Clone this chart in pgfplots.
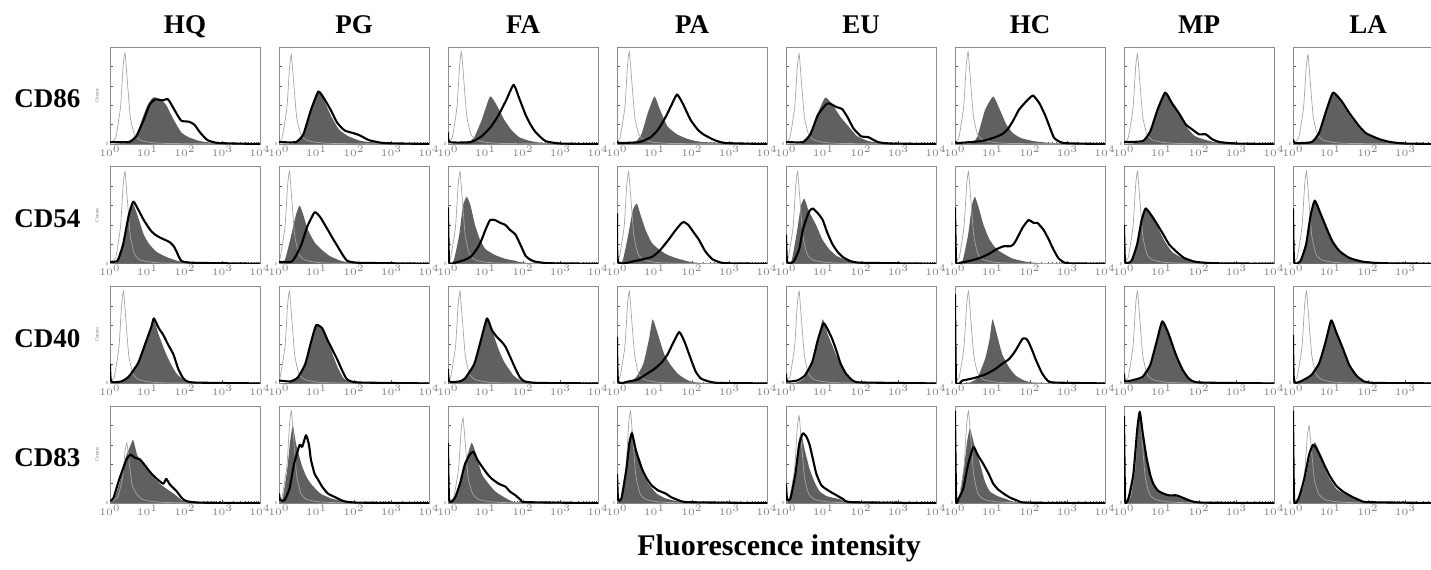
\documentclass[border=0pt]{standalone}
\usepackage{fontspec}
\setmainfont{Liberation Serif}
\usepackage{pgfplots}
\pgfplotsset{compat=1.18}

\definecolor{histfill}{RGB}{96,96,96}
\definecolor{isogray}{RGB}{165,165,165}
\definecolor{framegray}{RGB}{140,140,140}

\pgfplotsset{
  panel/.style={
    scale only axis, width=75pt, height=48.5pt, anchor=north west,
    xmin=0, xmax=4, ymin=0, ymax=1,
    axis line style={draw=framegray, line width=0.45pt},
    xtick={0,1,2,3,4},
    xticklabels={$10^0$,$10^1$,$10^2$,$10^3$,$10^4$},
    minor xtick={0.301,0.477,0.602,0.699,0.778,0.845,0.903,0.954,
                 1.301,1.477,1.602,1.699,1.778,1.845,1.903,1.954,
                 2.301,2.477,2.602,2.699,2.778,2.845,2.903,2.954,
                 3.301,3.477,3.602,3.699,3.778,3.845,3.903,3.954},
    ytick={0,0.2,0.4,0.6,0.8,1}, yticklabels={0,,,,,},
    xtick pos=bottom, ytick pos=left, tick align=inside,
    major tick length=1.6pt, minor tick length=0.9pt,
    every tick/.style={black!65, line width=0.3pt},
    tick label style={font=\fontsize{2.4}{2.6}\selectfont, text=black!50, inner sep=0.7pt},
    clip=true,
  },
  % rightmost column: the page ends before the last decade label
  col7/.style={xticklabels={$10^0$,$10^1$,$10^2$,$10^3$,}},
  hist fill/.style={fill=histfill, draw=none, smooth, tension=0.3},
  iso line/.style={isogray, line width=0.35pt, smooth, tension=0.3},
  treated line/.style={black, line width=1.05pt, smooth, tension=0.3, line join=round},
}

% #1 column, #2 row, #3 filled control, #4 isotype, #5 treated
\newcommand{\panel}[5]{%
  \begin{axis}[panel, col#1/.try, at={({55pt+84.5pt*#1},{-23.5pt-59.85pt*#2})}]
    \addplot[hist fill] coordinates {#3} \closedcycle;
    \addplot[iso line] coordinates {#4};
    \addplot[treated line] coordinates {#5};
  \end{axis}}

\begin{document}
\begin{tikzpicture}
% ---------------- CD86 ----------------
\panel{0}{0}
 {(0,0)(0.5,0.01)(0.7,0.08)(0.85,0.25)(1.0,0.4)(1.15,0.48)(1.35,0.46)(1.5,0.4)(1.7,0.25)(1.9,0.12)(2.1,0.07)(2.4,0.03)(2.8,0.01)(4,0)}
 {(0,0.02)(0.15,0.06)(0.28,0.38)(0.35,0.8)(0.4,0.94)(0.46,0.66)(0.54,0.28)(0.65,0.1)(0.8,0.04)(1.1,0.015)(1.6,0.005)(4,0)}
 {(0,0.02)(0.5,0.02)(0.7,0.08)(0.9,0.25)(1.05,0.4)(1.2,0.46)(1.4,0.45)(1.55,0.46)(1.75,0.33)(1.9,0.24)(2.1,0.23)(2.25,0.2)(2.4,0.12)(2.6,0.04)(2.9,0.01)(4,0)}
\panel{1}{0}
 {(0,0)(0.45,0.01)(0.65,0.1)(0.85,0.35)(1.03,0.55)(1.2,0.45)(1.4,0.28)(1.6,0.15)(1.85,0.08)(2.2,0.03)(2.8,0.01)(4,0)}
 {(0,0.02)(0.08,0.06)(0.21,0.37)(0.28,0.78)(0.33,0.92)(0.39,0.64)(0.47,0.28)(0.58,0.1)(0.73,0.04)(1.03,0.015)(1.53,0.005)(4,0)}
 {(0,0.02)(0.45,0.02)(0.65,0.1)(0.85,0.35)(1.05,0.54)(1.2,0.47)(1.38,0.35)(1.55,0.22)(1.75,0.14)(2.0,0.11)(2.15,0.09)(2.4,0.04)(2.8,0.01)(4,0)}
\panel{2}{0}
 {(0,0)(0.5,0.01)(0.7,0.07)(0.9,0.25)(1.12,0.49)(1.3,0.4)(1.5,0.25)(1.7,0.14)(1.9,0.07)(2.2,0.03)(2.6,0.01)(4,0)}
 {(0,0.02)(0.11,0.06)(0.24,0.38)(0.31,0.81)(0.36,0.95)(0.42,0.67)(0.5,0.29)(0.61,0.1)(0.76,0.04)(1.06,0.015)(1.56,0.005)(4,0)}
 {(0,0.12)(0.04,0.02)(0.6,0.02)(0.9,0.08)(1.15,0.18)(1.35,0.3)(1.55,0.45)(1.75,0.61)(1.9,0.47)(2.07,0.3)(2.2,0.2)(2.34,0.12)(2.6,0.03)(3.0,0.005)(4,0)}
\panel{3}{0}
 {(0,0)(0.45,0.01)(0.65,0.1)(0.82,0.32)(1.0,0.49)(1.15,0.35)(1.35,0.18)(1.6,0.1)(1.9,0.05)(2.3,0.02)(4,0)}
 {(0,0.02)(0.08,0.06)(0.21,0.38)(0.28,0.81)(0.33,0.95)(0.39,0.67)(0.47,0.29)(0.58,0.1)(0.73,0.04)(1.03,0.015)(1.53,0.005)(4,0)}
 {(0,0.03)(0.05,0.01)(0.6,0.02)(0.9,0.07)(1.1,0.15)(1.3,0.28)(1.45,0.4)(1.6,0.51)(1.75,0.42)(1.96,0.25)(2.15,0.15)(2.3,0.1)(2.6,0.04)(2.9,0.01)(4,0)}
\panel{4}{0}
 {(0,0)(0.45,0.01)(0.65,0.1)(0.85,0.32)(1.05,0.48)(1.25,0.4)(1.45,0.28)(1.67,0.18)(1.9,0.08)(2.2,0.03)(2.6,0.01)(4,0)}
 {(0,0.02)(0.1,0.06)(0.23,0.37)(0.3,0.79)(0.35,0.93)(0.41,0.65)(0.49,0.28)(0.6,0.1)(0.75,0.04)(1.05,0.015)(1.55,0.005)(4,0)}
 {(0,0.02)(0.45,0.02)(0.65,0.1)(0.85,0.3)(1.05,0.4)(1.15,0.42)(1.35,0.38)(1.5,0.36)(1.65,0.27)(1.8,0.16)(2.0,0.08)(2.2,0.07)(2.45,0.02)(2.8,0.005)(4,0)}
\panel{5}{0}
 {(0,0)(0.45,0.01)(0.6,0.08)(0.8,0.35)(1.02,0.49)(1.2,0.35)(1.37,0.2)(1.55,0.11)(1.77,0.06)(2.1,0.03)(2.6,0.01)(4,0)}
 {(0,0.02)(0.1,0.06)(0.23,0.38)(0.3,0.81)(0.35,0.95)(0.41,0.67)(0.49,0.29)(0.6,0.1)(0.75,0.04)(1.05,0.015)(1.55,0.005)(4,0)}
 {(0,0.03)(0.05,0.01)(0.7,0.03)(1.0,0.06)(1.25,0.1)(1.4,0.15)(1.55,0.24)(1.7,0.35)(1.9,0.44)(2.08,0.5)(2.25,0.42)(2.4,0.3)(2.55,0.15)(2.65,0.06)(2.9,0.01)(4,0)}
\panel{6}{0}
 {(0,0)(0.5,0.02)(0.7,0.12)(0.9,0.35)(1.1,0.53)(1.3,0.42)(1.5,0.3)(1.7,0.16)(1.9,0.08)(2.2,0.04)(2.6,0.01)(4,0)}
 {(0,0.02)(0.11,0.06)(0.24,0.37)(0.31,0.79)(0.36,0.93)(0.42,0.65)(0.5,0.28)(0.61,0.1)(0.76,0.04)(1.06,0.015)(1.56,0.005)(4,0)}
 {(0,0.02)(0.5,0.03)(0.7,0.13)(0.9,0.36)(1.1,0.53)(1.28,0.42)(1.46,0.32)(1.65,0.2)(1.82,0.15)(2.0,0.1)(2.18,0.1)(2.35,0.05)(2.55,0.02)(3,0.005)(4,0)}
\panel{7}{0}
 {(0,0)(0.5,0.02)(0.7,0.12)(0.9,0.36)(1.07,0.53)(1.3,0.42)(1.5,0.3)(1.75,0.17)(1.95,0.1)(2.3,0.04)(2.6,0.02)(3.0,0.005)(4,0)}
 {(0,0.02)(0.15,0.06)(0.28,0.37)(0.35,0.78)(0.4,0.92)(0.46,0.64)(0.54,0.28)(0.65,0.1)(0.8,0.04)(1.1,0.015)(1.6,0.005)(4,0)}
 {(0,0.05)(0.05,0.01)(0.5,0.02)(0.7,0.12)(0.9,0.36)(1.07,0.53)(1.3,0.44)(1.5,0.32)(1.75,0.19)(1.95,0.11)(2.3,0.05)(2.6,0.02)(3.0,0.005)(4,0)}
% ---------------- CD54 ----------------
\panel{0}{1}
 {(0,0)(0.2,0.02)(0.35,0.2)(0.5,0.52)(0.62,0.61)(0.75,0.48)(0.9,0.3)(1.05,0.2)(1.25,0.12)(1.5,0.07)(1.8,0.03)(2.2,0.01)(4,0)}
 {(0,0.02)(0.15,0.06)(0.28,0.38)(0.35,0.81)(0.4,0.95)(0.46,0.67)(0.54,0.29)(0.65,0.1)(0.8,0.04)(1.1,0.015)(1.6,0.005)(4,0)}
 {(0,0.02)(0.2,0.03)(0.35,0.2)(0.5,0.5)(0.62,0.64)(0.75,0.56)(0.9,0.45)(1.07,0.35)(1.2,0.3)(1.33,0.27)(1.5,0.24)(1.6,0.22)(1.7,0.18)(1.78,0.12)(1.9,0.03)(2.2,0.01)(4,0)}
\panel{1}{1}
 {(0,0)(0.15,0.03)(0.3,0.25)(0.45,0.5)(0.55,0.6)(0.65,0.5)(0.77,0.35)(0.95,0.22)(1.12,0.15)(1.35,0.08)(1.65,0.03)(2,0.01)(4,0)}
 {(0,0.02)(0.03,0.06)(0.16,0.38)(0.23,0.81)(0.28,0.95)(0.34,0.67)(0.42,0.29)(0.53,0.1)(0.68,0.04)(0.98,0.015)(1.48,0.005)(4,0)}
 {(0,0.02)(0.33,0.02)(0.45,0.08)(0.6,0.2)(0.75,0.38)(0.95,0.53)(1.1,0.48)(1.3,0.35)(1.45,0.25)(1.56,0.18)(1.7,0.09)(1.82,0.03)(2.1,0.01)(4,0)}
\panel{2}{1}
 {(0,0)(0.15,0.03)(0.3,0.3)(0.4,0.6)(0.5,0.69)(0.6,0.6)(0.72,0.4)(0.85,0.25)(1.0,0.15)(1.25,0.09)(1.53,0.05)(1.8,0.03)(2.07,0.01)(4,0)}
 {(0,0.02)(0.07,0.06)(0.2,0.38)(0.27,0.81)(0.32,0.95)(0.38,0.67)(0.46,0.29)(0.57,0.1)(0.72,0.04)(1.02,0.015)(1.52,0.005)(4,0)}
 {(0,0.58)(0.03,0.02)(0.18,0.01)(0.45,0.04)(0.63,0.08)(0.8,0.17)(0.9,0.25)(1.0,0.35)(1.12,0.45)(1.25,0.45)(1.4,0.42)(1.53,0.4)(1.65,0.35)(1.8,0.3)(1.95,0.18)(2.07,0.08)(2.2,0.04)(2.34,0.02)(2.7,0.005)(4,0)}
\panel{3}{1}
 {(0,0)(0.15,0.03)(0.3,0.3)(0.42,0.55)(0.53,0.62)(0.63,0.5)(0.76,0.35)(0.92,0.22)(1.11,0.15)(1.35,0.09)(1.64,0.05)(1.95,0.02)(2.3,0.005)(4,0)}
 {(0,0.02)(0.06,0.06)(0.19,0.38)(0.26,0.81)(0.31,0.95)(0.37,0.67)(0.45,0.29)(0.56,0.1)(0.71,0.04)(1.01,0.015)(1.51,0.005)(4,0)}
 {(0,0.52)(0.03,0.02)(0.5,0.03)(0.93,0.07)(1.15,0.14)(1.38,0.25)(1.55,0.34)(1.7,0.41)(1.78,0.43)(1.9,0.4)(2.05,0.32)(2.18,0.25)(2.35,0.13)(2.53,0.05)(2.7,0.02)(2.9,0.005)(4,0)}
\panel{4}{1}
 {(0,0)(0.15,0.03)(0.3,0.35)(0.4,0.6)(0.49,0.67)(0.6,0.55)(0.8,0.4)(0.97,0.25)(1.15,0.15)(1.35,0.08)(1.6,0.04)(2.0,0.01)(4,0)}
 {(0,0.02)(0.06,0.06)(0.19,0.38)(0.26,0.81)(0.31,0.95)(0.37,0.67)(0.45,0.29)(0.56,0.1)(0.71,0.04)(1.01,0.015)(1.51,0.005)(4,0)}
 {(0,0.3)(0.03,0.02)(0.2,0.02)(0.35,0.15)(0.45,0.35)(0.53,0.45)(0.62,0.54)(0.71,0.57)(0.85,0.52)(0.98,0.45)(1.1,0.32)(1.24,0.2)(1.38,0.12)(1.51,0.07)(1.7,0.03)(2.0,0.01)(4,0)}
\panel{5}{1}
 {(0,0)(0.2,0.03)(0.35,0.3)(0.45,0.6)(0.53,0.69)(0.63,0.58)(0.76,0.4)(0.92,0.25)(1.11,0.15)(1.35,0.09)(1.56,0.05)(1.9,0.02)(2.3,0.005)(4,0)}
 {(0,0.02)(0.11,0.06)(0.24,0.38)(0.31,0.81)(0.36,0.95)(0.42,0.67)(0.5,0.29)(0.61,0.1)(0.76,0.04)(1.06,0.015)(1.56,0.005)(4,0)}
 {(0,0.58)(0.03,0.02)(0.13,0.01)(0.4,0.03)(0.67,0.06)(0.9,0.1)(1.11,0.15)(1.3,0.18)(1.47,0.18)(1.56,0.2)(1.64,0.25)(1.8,0.37)(1.96,0.45)(2.1,0.42)(2.2,0.42)(2.36,0.35)(2.5,0.25)(2.62,0.15)(2.75,0.06)(2.84,0.03)(3.0,0.005)(4,0)}
\panel{6}{1}
 {(0,0)(0.2,0.03)(0.35,0.2)(0.47,0.45)(0.58,0.57)(0.75,0.48)(0.93,0.35)(1.1,0.22)(1.29,0.12)(1.55,0.06)(1.9,0.02)(2.4,0.005)(4,0)}
 {(0,0.02)(0.11,0.06)(0.24,0.38)(0.31,0.81)(0.36,0.95)(0.42,0.67)(0.5,0.29)(0.61,0.1)(0.76,0.04)(1.06,0.015)(1.56,0.005)(4,0)}
 {(0,0.4)(0.03,0.02)(0.2,0.03)(0.35,0.2)(0.47,0.45)(0.58,0.57)(0.78,0.47)(1.02,0.32)(1.2,0.2)(1.38,0.13)(1.6,0.06)(1.9,0.02)(2.4,0.005)(4,0)}
\panel{7}{1}
 {(0,0)(0.2,0.03)(0.35,0.2)(0.47,0.5)(0.58,0.65)(0.72,0.52)(0.89,0.35)(1.05,0.22)(1.24,0.12)(1.5,0.06)(1.87,0.02)(2.4,0.005)(4,0)}
 {(0,0.02)(0.11,0.06)(0.24,0.38)(0.31,0.81)(0.36,0.95)(0.42,0.67)(0.5,0.29)(0.61,0.1)(0.76,0.04)(1.06,0.015)(1.56,0.005)(4,0)}
 {(0,0.57)(0.03,0.02)(0.2,0.03)(0.35,0.2)(0.47,0.5)(0.58,0.65)(0.72,0.53)(0.89,0.37)(1.05,0.23)(1.24,0.13)(1.5,0.06)(1.87,0.02)(2.4,0.005)(4,0)}
% ---------------- CD40 ----------------
\panel{0}{2}
 {(0,0)(0.3,0.01)(0.5,0.06)(0.75,0.2)(0.95,0.4)(1.1,0.58)(1.16,0.67)(1.3,0.5)(1.5,0.3)(1.65,0.18)(1.78,0.1)(1.95,0.04)(2.2,0.01)(4,0)}
 {(0,0.02)(0.11,0.06)(0.24,0.38)(0.31,0.81)(0.36,0.95)(0.42,0.67)(0.5,0.29)(0.61,0.1)(0.76,0.04)(1.06,0.015)(1.56,0.005)(4,0)}
 {(0,0.2)(0.03,0.02)(0.3,0.02)(0.5,0.07)(0.75,0.21)(0.95,0.42)(1.1,0.58)(1.17,0.67)(1.3,0.57)(1.42,0.5)(1.55,0.4)(1.69,0.3)(1.82,0.15)(1.96,0.05)(2.2,0.01)(4,0)}
\panel{1}{2}
 {(0,0)(0.3,0.01)(0.5,0.06)(0.7,0.2)(0.85,0.42)(0.99,0.6)(1.15,0.55)(1.38,0.35)(1.55,0.18)(1.73,0.05)(2.0,0.01)(4,0)}
 {(0,0.02)(0.03,0.06)(0.16,0.38)(0.23,0.81)(0.28,0.95)(0.34,0.67)(0.42,0.29)(0.53,0.1)(0.68,0.04)(0.98,0.015)(1.48,0.005)(4,0)}
 {(0,0.03)(0.3,0.02)(0.5,0.06)(0.7,0.2)(0.85,0.42)(0.99,0.6)(1.15,0.57)(1.29,0.45)(1.42,0.35)(1.55,0.25)(1.7,0.12)(1.82,0.04)(2.1,0.01)(4,0)}
\panel{2}{2}
 {(0,0)(0.3,0.01)(0.45,0.05)(0.7,0.2)(0.88,0.45)(1.03,0.67)(1.17,0.55)(1.35,0.35)(1.5,0.22)(1.62,0.15)(1.75,0.08)(1.89,0.04)(2.2,0.01)(4,0)}
 {(0,0.02)(0.07,0.06)(0.2,0.38)(0.27,0.81)(0.32,0.95)(0.38,0.67)(0.46,0.29)(0.57,0.1)(0.72,0.04)(1.02,0.015)(1.52,0.005)(4,0)}
 {(0,0.15)(0.03,0.02)(0.3,0.02)(0.45,0.05)(0.7,0.2)(0.88,0.45)(1.04,0.67)(1.17,0.55)(1.3,0.48)(1.43,0.43)(1.53,0.38)(1.65,0.28)(1.8,0.15)(1.92,0.06)(2.05,0.02)(2.4,0.005)(4,0)}
\panel{3}{2}
 {(0,0)(0.3,0.01)(0.5,0.06)(0.7,0.2)(0.85,0.45)(0.95,0.66)(1.08,0.52)(1.26,0.3)(1.45,0.18)(1.62,0.1)(1.8,0.05)(1.97,0.02)(2.3,0.005)(4,0)}
 {(0,0.02)(0.08,0.06)(0.21,0.38)(0.28,0.81)(0.33,0.95)(0.39,0.67)(0.47,0.29)(0.58,0.1)(0.73,0.04)(1.03,0.015)(1.53,0.005)(4,0)}
 {(0,0.48)(0.03,0.02)(0.3,0.02)(0.55,0.04)(0.8,0.1)(1.0,0.15)(1.2,0.22)(1.35,0.3)(1.5,0.42)(1.66,0.53)(1.8,0.43)(1.97,0.25)(2.1,0.12)(2.24,0.05)(2.45,0.02)(2.7,0.005)(4,0)}
\panel{4}{2}
 {(0,0)(0.3,0.01)(0.5,0.06)(0.7,0.2)(0.85,0.45)(0.98,0.66)(1.12,0.5)(1.33,0.3)(1.5,0.15)(1.69,0.05)(1.95,0.01)(4,0)}
 {(0,0.02)(0.1,0.06)(0.23,0.38)(0.3,0.81)(0.35,0.95)(0.41,0.67)(0.49,0.29)(0.6,0.1)(0.75,0.04)(1.05,0.015)(1.55,0.005)(4,0)}
 {(0,0.1)(0.03,0.02)(0.3,0.03)(0.5,0.08)(0.7,0.22)(0.85,0.45)(1.0,0.62)(1.12,0.55)(1.24,0.45)(1.35,0.33)(1.46,0.2)(1.6,0.1)(1.78,0.03)(2.0,0.01)(4,0)}
\panel{5}{2}
 {(0,0)(0.4,0.01)(0.6,0.06)(0.8,0.25)(0.92,0.45)(1.0,0.66)(1.12,0.5)(1.26,0.3)(1.45,0.16)(1.62,0.08)(1.85,0.03)(2.2,0.005)(4,0)}
 {(0,0.02)(0.11,0.06)(0.24,0.38)(0.31,0.81)(0.36,0.95)(0.42,0.67)(0.5,0.29)(0.61,0.1)(0.76,0.04)(1.06,0.015)(1.56,0.005)(4,0)}
 {(0,0.92)(0.03,0.02)(0.2,0.03)(0.45,0.05)(0.64,0.07)(0.85,0.1)(1.08,0.15)(1.25,0.2)(1.44,0.25)(1.6,0.33)(1.8,0.46)(1.9,0.46)(1.97,0.42)(2.07,0.33)(2.15,0.25)(2.3,0.12)(2.42,0.05)(2.6,0.01)(4,0)}
\panel{6}{2}
 {(0,0)(0.3,0.03)(0.5,0.06)(0.7,0.18)(0.87,0.42)(1.02,0.64)(1.18,0.5)(1.38,0.3)(1.55,0.15)(1.73,0.05)(2.0,0.01)(4,0)}
 {(0,0.02)(0.11,0.06)(0.24,0.38)(0.31,0.81)(0.36,0.95)(0.42,0.67)(0.5,0.29)(0.61,0.1)(0.76,0.04)(1.06,0.015)(1.56,0.005)(4,0)}
 {(0,0.1)(0.03,0.02)(0.3,0.04)(0.5,0.07)(0.7,0.19)(0.87,0.43)(1.02,0.64)(1.18,0.52)(1.38,0.3)(1.55,0.15)(1.73,0.05)(2.0,0.01)(4,0)}
\panel{7}{2}
 {(0,0)(0.3,0.03)(0.5,0.08)(0.7,0.2)(0.87,0.42)(1.02,0.65)(1.15,0.52)(1.33,0.35)(1.5,0.18)(1.69,0.08)(1.9,0.02)(2.2,0.005)(4,0)}
 {(0,0.02)(0.11,0.06)(0.24,0.38)(0.31,0.81)(0.36,0.95)(0.42,0.67)(0.5,0.29)(0.61,0.1)(0.76,0.04)(1.06,0.015)(1.56,0.005)(4,0)}
 {(0,0.5)(0.03,0.02)(0.3,0.04)(0.5,0.09)(0.7,0.21)(0.87,0.43)(1.02,0.65)(1.15,0.53)(1.33,0.36)(1.5,0.19)(1.69,0.08)(1.9,0.02)(2.2,0.005)(4,0)}
% ---------------- CD83 ----------------
\panel{0}{3}
 {(0,0)(0.1,0.03)(0.25,0.2)(0.4,0.45)(0.55,0.6)(0.62,0.65)(0.72,0.5)(0.8,0.45)(0.98,0.35)(1.15,0.27)(1.33,0.2)(1.5,0.15)(1.69,0.1)(1.85,0.05)(1.96,0.02)(2.3,0.005)(4,0)}
 {(0,0.02)(0.2,0.06)(0.33,0.25)(0.4,0.53)(0.45,0.62)(0.51,0.43)(0.59,0.19)(0.7,0.1)(0.85,0.04)(1.15,0.015)(1.65,0.005)(4,0)}
 {(0,0.02)(0.09,0.05)(0.25,0.25)(0.44,0.45)(0.55,0.5)(0.65,0.47)(0.8,0.45)(0.95,0.38)(1.07,0.32)(1.25,0.25)(1.42,0.2)(1.5,0.25)(1.6,0.19)(1.78,0.12)(1.92,0.05)(2.04,0.02)(2.4,0.005)(4,0)}
\panel{1}{3}
 {(0,0)(0.1,0.05)(0.22,0.35)(0.3,0.65)(0.37,0.8)(0.45,0.62)(0.6,0.4)(0.72,0.28)(0.85,0.2)(1.1,0.1)(1.38,0.05)(1.7,0.02)(2.1,0.005)(4,0)}
 {(0,0.02)(0.08,0.06)(0.21,0.38)(0.28,0.81)(0.33,0.95)(0.39,0.67)(0.47,0.29)(0.58,0.1)(0.73,0.04)(1.03,0.015)(1.53,0.005)(4,0)}
 {(0,0.1)(0.03,0.03)(0.15,0.03)(0.28,0.15)(0.4,0.4)(0.55,0.6)(0.62,0.58)(0.72,0.7)(0.8,0.6)(0.85,0.45)(0.95,0.3)(1.03,0.25)(1.15,0.17)(1.3,0.1)(1.5,0.06)(1.73,0.02)(2.1,0.005)(4,0)}
\panel{2}{3}
 {(0,0)(0.15,0.03)(0.3,0.15)(0.45,0.4)(0.63,0.62)(0.75,0.5)(0.9,0.3)(1.08,0.2)(1.26,0.12)(1.5,0.06)(1.7,0.02)(2.0,0.005)(4,0)}
 {(0,0.02)(0.15,0.06)(0.28,0.35)(0.35,0.75)(0.4,0.88)(0.46,0.62)(0.54,0.26)(0.65,0.1)(0.8,0.04)(1.1,0.015)(1.6,0.005)(4,0)}
 {(0,0.62)(0.03,0.03)(0.18,0.05)(0.32,0.2)(0.45,0.4)(0.58,0.5)(0.68,0.53)(0.78,0.45)(0.9,0.38)(1.05,0.3)(1.17,0.25)(1.35,0.2)(1.53,0.17)(1.65,0.12)(1.8,0.08)(1.95,0.03)(2.07,0.01)(4,0)}
\panel{3}{3}
 {(0,0)(0.12,0.05)(0.25,0.35)(0.33,0.65)(0.4,0.75)(0.48,0.62)(0.58,0.45)(0.7,0.3)(0.84,0.2)(1.05,0.1)(1.29,0.05)(1.6,0.02)(2.0,0.005)(4,0)}
 {(0,0.02)(0.11,0.06)(0.24,0.38)(0.31,0.81)(0.36,0.95)(0.42,0.67)(0.5,0.29)(0.61,0.1)(0.76,0.04)(1.06,0.015)(1.56,0.005)(4,0)}
 {(0,0.3)(0.03,0.03)(0.12,0.05)(0.25,0.35)(0.33,0.62)(0.4,0.72)(0.5,0.55)(0.67,0.35)(0.8,0.25)(0.93,0.18)(1.1,0.13)(1.29,0.1)(1.45,0.06)(1.64,0.03)(1.9,0.01)(4,0)}
\panel{4}{3}
 {(0,0)(0.12,0.05)(0.25,0.35)(0.33,0.62)(0.4,0.72)(0.5,0.55)(0.63,0.35)(0.78,0.2)(0.9,0.12)(1.1,0.07)(1.44,0.04)(1.7,0.01)(4,0)}
 {(0,0.02)(0.1,0.06)(0.23,0.36)(0.3,0.77)(0.35,0.9)(0.41,0.63)(0.49,0.27)(0.6,0.1)(0.75,0.04)(1.05,0.015)(1.55,0.005)(4,0)}
 {(0,0.2)(0.03,0.03)(0.12,0.05)(0.25,0.3)(0.35,0.6)(0.45,0.72)(0.55,0.68)(0.63,0.6)(0.72,0.45)(0.81,0.3)(0.95,0.18)(1.17,0.12)(1.35,0.08)(1.53,0.04)(1.75,0.01)(4,0)}
\panel{5}{3}
 {(0,0)(0.12,0.05)(0.25,0.4)(0.33,0.65)(0.4,0.77)(0.5,0.62)(0.67,0.4)(0.8,0.22)(0.93,0.12)(1.15,0.07)(1.38,0.04)(1.7,0.01)(4,0)}
 {(0,0.02)(0.11,0.06)(0.24,0.38)(0.31,0.81)(0.36,0.95)(0.42,0.67)(0.5,0.29)(0.61,0.1)(0.76,0.04)(1.06,0.015)(1.56,0.005)(4,0)}
 {(0,0.95)(0.03,0.03)(0.1,0.05)(0.22,0.15)(0.35,0.4)(0.49,0.58)(0.6,0.5)(0.76,0.4)(0.9,0.3)(1.02,0.2)(1.15,0.14)(1.29,0.1)(1.45,0.06)(1.64,0.03)(1.9,0.005)(4,0)}
\panel{6}{3}
 {(0,0)(0.12,0.05)(0.25,0.3)(0.35,0.75)(0.42,0.93)(0.5,0.7)(0.6,0.45)(0.7,0.28)(0.78,0.2)(0.9,0.13)(1.04,0.1)(1.2,0.08)(1.4,0.07)(1.6,0.04)(1.93,0.01)(2.3,0.005)(4,0)}
 {(0,0.02)(0.17,0.06)(0.3,0.38)(0.37,0.81)(0.42,0.95)(0.48,0.67)(0.56,0.29)(0.67,0.1)(0.82,0.04)(1.12,0.015)(1.62,0.005)(4,0)}
 {(0,0.9)(0.03,0.03)(0.12,0.05)(0.25,0.3)(0.35,0.75)(0.42,0.94)(0.5,0.72)(0.6,0.47)(0.7,0.29)(0.78,0.2)(0.9,0.13)(1.04,0.1)(1.2,0.08)(1.4,0.08)(1.6,0.05)(1.8,0.02)(2.1,0.005)(4,0)}
\panel{7}{3}
 {(0,0)(0.15,0.04)(0.3,0.2)(0.45,0.48)(0.58,0.63)(0.7,0.52)(0.8,0.4)(0.95,0.27)(1.15,0.15)(1.35,0.1)(1.6,0.05)(1.96,0.01)(2.3,0.005)(4,0)}
 {(0,0.02)(0.18,0.06)(0.31,0.32)(0.38,0.68)(0.43,0.8)(0.49,0.56)(0.57,0.24)(0.68,0.1)(0.83,0.04)(1.13,0.015)(1.63,0.005)(4,0)}
 {(0,0.95)(0.03,0.03)(0.15,0.05)(0.3,0.25)(0.43,0.5)(0.53,0.6)(0.62,0.57)(0.71,0.5)(0.85,0.38)(0.98,0.28)(1.15,0.18)(1.33,0.12)(1.55,0.07)(1.78,0.03)(2.0,0.01)(4,0)}

% column headings
\foreach \name [count=\i from 0] in {HQ,PG,FA,PA,EU,HC,MP,LA}
  \node[anchor=base, font=\fontsize{13.5}{15}\selectfont\bfseries, inner sep=0pt]
    at ({92.5pt+84.5pt*\i},-16.5pt) {\name};
% row headings and count labels
\foreach \name [count=\j from 0] in {CD86,CD54,CD40,CD83} {
  \node[anchor=base west, font=\fontsize{13.5}{15}\selectfont\bfseries, inner sep=0pt]
    at (7pt,{-53.8pt-59.85pt*\j}) {\name};
  \node[rotate=90, font=\fontsize{2.5}{3}\selectfont, text=black!55, inner sep=0pt]
    at (48.5pt,{-47.75pt-59.85pt*\j}) {Counts};
}
\node[anchor=base west, font=\fontsize{15}{17}\selectfont\bfseries, inner sep=0pt]
  at (318.5pt,-277.5pt) {Fluorescence intensity};

\pgfresetboundingbox
\path[use as bounding box] (0,0) rectangle (715.5pt,-284.5pt);
\end{tikzpicture}
\end{document}
